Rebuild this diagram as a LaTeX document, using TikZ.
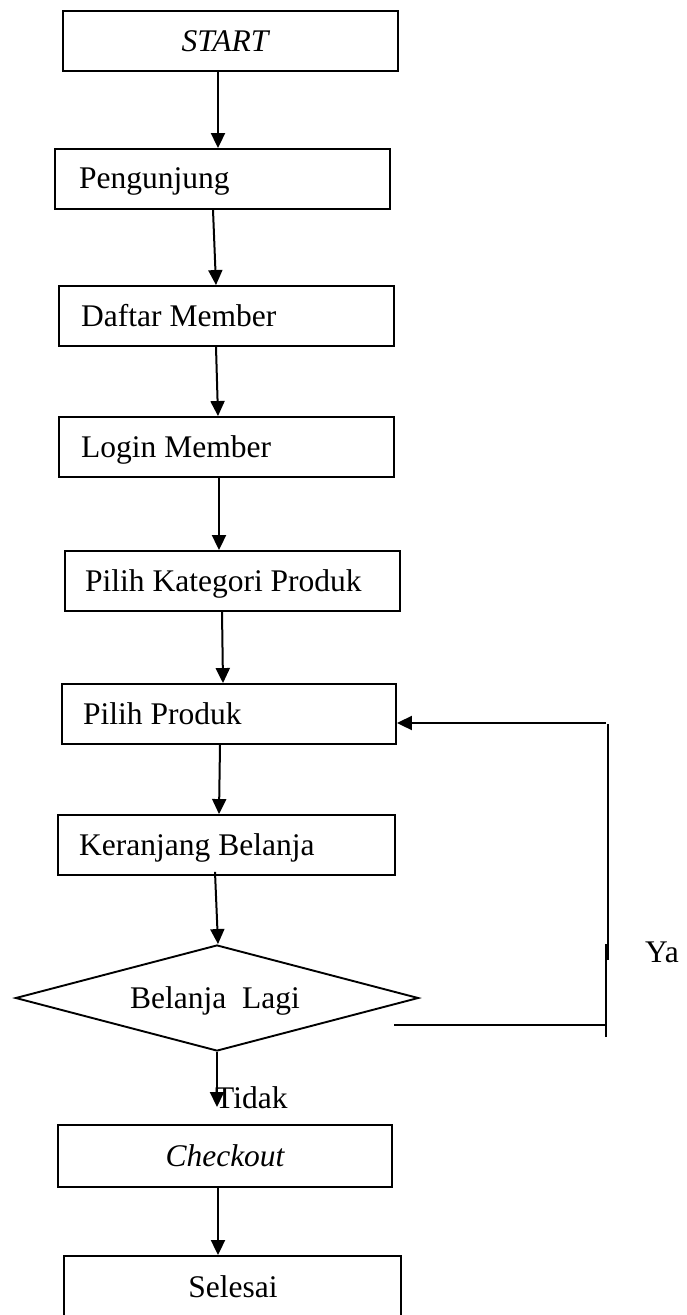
\documentclass[tikz,border=0pt]{standalone}
\usepackage{fontspec}
\setmainfont{Liberation Serif}
\usetikzlibrary{arrows.meta,shapes.geometric}
\tikzset{
  x=1pt, y=1pt,
  box/.style={draw, line width=1.9pt, rectangle, inner sep=0pt, minimum height=60pt},
  dec/.style={draw, line width=1.9pt, diamond, inner sep=0pt, minimum width=403pt, minimum height=106pt},
  lbl/.style={inner sep=0pt, font=\fontsize{31.5}{36}\selectfont},
  arr/.style={line width=2pt, -{Triangle[length=15pt,width=14pt]}},
  ln/.style={line width=2pt},
}
\begin{document}
\begin{tikzpicture}
\path[use as bounding box] (0,0) rectangle (687,-1315);
% boxes
\node[box, minimum width=335pt] (start) at (230.5,-41) {};
\node[box, minimum width=335pt] (peng) at (222.5,-179) {};
\node[box, minimum width=335pt] (daftar) at (226.5,-316) {};
\node[box, minimum width=335pt] (login) at (226.5,-447) {};
\node[box, minimum width=335pt] (kat) at (232.5,-581) {};
\node[box, minimum width=334pt] (pilih) at (229,-714) {};
\node[box, minimum width=337pt] (ker) at (226.5,-845) {};
\node[dec] (dec) at (217,-998) {};
\node[box, minimum width=334pt, minimum height=62pt] (check) at (225,-1156) {};
\node[box, minimum width=337pt, minimum height=70pt] (sel) at (232.5,-1291) {};
% texts
\node[lbl, anchor=base] (tstart) at (225,-51) {\itshape START};
\node[lbl, anchor=base west] (tpeng) at (79,-188) {Pengunjung};
\node[lbl, anchor=base west] (tdaftar) at (81,-326) {Daftar Member};
\node[lbl, anchor=base west] (tlogin) at (81,-457) {Login Member};
\node[lbl, anchor=base west] (tkat) at (85,-591) {Pilih Kategori Produk};
\node[lbl, anchor=base west] (tpilih) at (83,-724) {Pilih Produk};
\node[lbl, anchor=base west] (tker) at (79,-855) {Keranjang Belanja};
\node[lbl, anchor=base west] (tdec) at (130,-1008) {Belanja\ \ Lagi};
\node[lbl, anchor=base] (tcheck) at (225,-1166) {\itshape Checkout};
\node[lbl, anchor=base] (tsel) at (233,-1297) {Selesai};
\node[lbl, anchor=base west] (tya) at (645,-962) {Ya};
% main flow
\draw[arr] ([xshift=-12.5pt]start.south) -- ([xshift=-4.5pt]peng.north);
\draw[arr] ([xshift=-9.5pt]peng.south) -- ([xshift=-10.5pt]daftar.north);
\draw[arr] ([xshift=-10.5pt]daftar.south) -- ([xshift=-8.5pt]login.north);
\draw[arr] ([xshift=-7.5pt]login.south) -- ([xshift=-13.5pt]kat.north);
\draw[arr] ([xshift=-10.5pt]kat.south) -- ([xshift=-6pt]pilih.north);
\draw[arr] ([xshift=-9pt]pilih.south) -- ([xshift=-7.5pt]ker.north);
\draw[arr] ([xshift=-11.5pt,yshift=4pt]ker.south) -- ([xshift=1pt]dec.north);
\coordinate (tidakend) at (217,-1107);
\draw[arr] (dec.south) -- (tidakend);
\node[lbl, anchor=base west] (ttidak) at (215,-1108) {Tidak};
\draw[arr] ([xshift=-7pt]check.south) -- ([xshift=-14.5pt]sel.north);
% loop back (Ya)
\coordinate (ya1) at (394,-1025);
\coordinate (ya2) at (606,-1025);
\coordinate (ya3) at (606,-1037);
\coordinate (ya4) at (606,-944);
\coordinate (ya5) at (608,-960);
\coordinate (ya6) at (608,-724);
\coordinate (ya7) at (606,-723);
\draw[ln] (ya1) -- (ya2);
\draw[ln] (ya3) -- (ya4);
\draw[ln] (ya5) -- (ya6);
\draw[arr] (ya7) -- (pilih.east |- ya7);
\end{tikzpicture}
\end{document}
